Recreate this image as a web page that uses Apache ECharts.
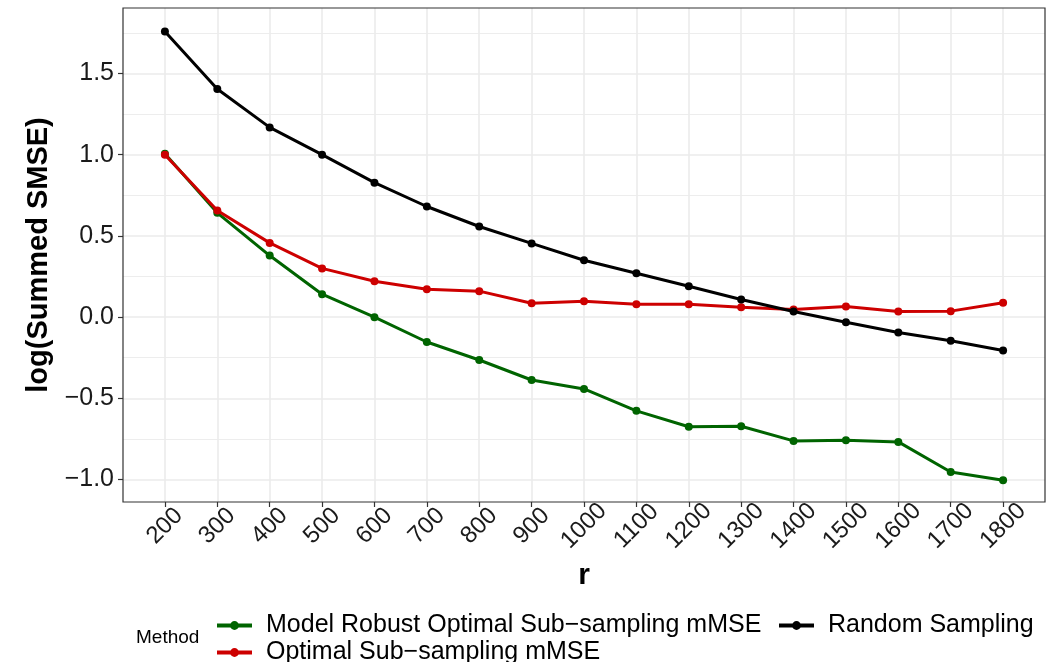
<!DOCTYPE html>
<html>
<head>
<meta charset="utf-8">
<script src="https://cdn.jsdelivr.net/npm/echarts@6/dist/echarts.min.js"></script>
<style>
html,body{margin:0;padding:0;background:#fff;}
#chart{width:1056px;height:662px;}
</style>
</head>
<body>
<div id="chart"></div>
<script>
var rValues = [200,300,400,500,600,700,800,900,1000,1100,1200,1300,1400,1500,1600,1700,1800];
var robustOSS = [1.006,0.642,0.379,0.141,0.0,-0.153,-0.264,-0.387,-0.442,-0.577,-0.675,-0.672,-0.762,-0.758,-0.768,-0.953,-1.004];
var optimalOSS = [1.0,0.656,0.457,0.30,0.221,0.172,0.16,0.086,0.098,0.08,0.08,0.061,0.047,0.066,0.035,0.037,0.088];
var randomSampling = [1.758,1.404,1.168,1.0,0.828,0.681,0.558,0.454,0.350,0.270,0.190,0.109,0.035,-0.031,-0.094,-0.145,-0.205];
var xTicks = [200,300,400,500,600,700,800,900,1000,1100,1200,1300,1400,1500,1600,1700,1800];
var yTicks = [-1.0,-0.5,0.0,0.5,1.0,1.5];
var yMinorTicks = [-0.75,-0.25,0.25,0.75,1.25,1.75];
var seriesNames = ['Model Robust Optimal Sub\u2212sampling mMSE','Optimal Sub\u2212sampling mMSE','Random Sampling'];
var seriesColors = ['#006400','#CD0000','#000000'];

function pairs(vals){ return rValues.map(function(r,i){ return [r, vals[i]]; }); }
function fmtY(v){ var s = Number(v).toFixed(1); return s.charAt(0)==='-' ? '\u2212'+s.slice(1) : s; }

var FONT = '"Liberation Sans", Arial, Helvetica, sans-serif';
var chart = echarts.init(document.getElementById('chart'), null, {renderer:'canvas'});

function lineSeries(idx, vals){
  return {
    name: seriesNames[idx], type:'line', data: pairs(vals),
    xAxisIndex:0, yAxisIndex:0,
    symbol:'circle', symbolSize:8, showSymbol:true,
    lineStyle:{color:seriesColors[idx], width:3},
    itemStyle:{color:seriesColors[idx]},
    emphasis:{disabled:true}, animation:false, z: 3+idx
  };
}
function legendAt(idx, left, top){
  return {
    data:[seriesNames[idx]], left:left, top:top, orient:'horizontal',
    itemWidth:35, itemHeight:11, padding:0,
    lineStyle:{width:4},
    textStyle:{fontFamily:FONT, fontSize:25, color:'#000', padding:[0,0,0,9]},
    selectedMode:false
  };
}

chart.setOption({
  animation:false,
  backgroundColor:'#fff',
  grid:{left:123, right:11, top:8, bottom:160, show:true, borderColor:'#333', borderWidth:1.2, backgroundColor:'transparent', z:10},
  xAxis:[{
    type:'value', min:120, max:1880,
    name:'r', nameLocation:'middle', nameGap:74,
    nameTextStyle:{fontFamily:FONT, fontSize:30, fontWeight:'bold', color:'#000', verticalAlign:'middle'},
    axisLine:{show:false, onZero:false},
    axisTick:{show:true, length:5, lineStyle:{color:'#333', width:1.2}, customValues:xTicks},
    axisLabel:{show:true, rotate:45, margin:24, align:'center', verticalAlign:'middle', customValues:xTicks,
      fontFamily:FONT, fontSize:24, color:'#1a1a1a', formatter:function(v){return String(v);}},
    splitLine:{show:true, lineStyle:{color:'#EBEBEB', width:1.6}}
  }],
  yAxis:[{
    type:'value', min:-1.138, max:1.903,
    name:'log(Summed SMSE)', nameLocation:'middle', nameGap:84, nameRotate:90,
    nameTextStyle:{fontFamily:FONT, fontSize:29, fontWeight:'bold', color:'#000', verticalAlign:'middle'},
    axisLine:{show:false, onZero:false},
    axisTick:{show:true, length:5, lineStyle:{color:'#333', width:1.2}, customValues:yTicks},
    axisLabel:{show:true, margin:9, customValues:yTicks, fontFamily:FONT, fontSize:25, color:'#1a1a1a', formatter:fmtY},
    splitLine:{show:true, lineStyle:{color:'#EBEBEB', width:1.6}}
  },{
    type:'value', min:-1.138, max:1.903, position:'left',
    axisLine:{show:false, onZero:false},
    axisTick:{show:false, customValues:yMinorTicks},
    axisLabel:{show:false, customValues:yMinorTicks},
    splitLine:{show:true, lineStyle:{color:'#EDEDED', width:1}}
  }],
  legend:[ legendAt(0,215,613), legendAt(2,777,613), legendAt(1,215,640) ],
  graphic:[{
    type:'text', left:136, top:628,
    style:{text:'Method', fontFamily:FONT, fontSize:19, fill:'#000'}
  }],
  series:[ lineSeries(0, robustOSS), lineSeries(1, optimalOSS), lineSeries(2, randomSampling) ]
});
</script>
</body>
</html>
